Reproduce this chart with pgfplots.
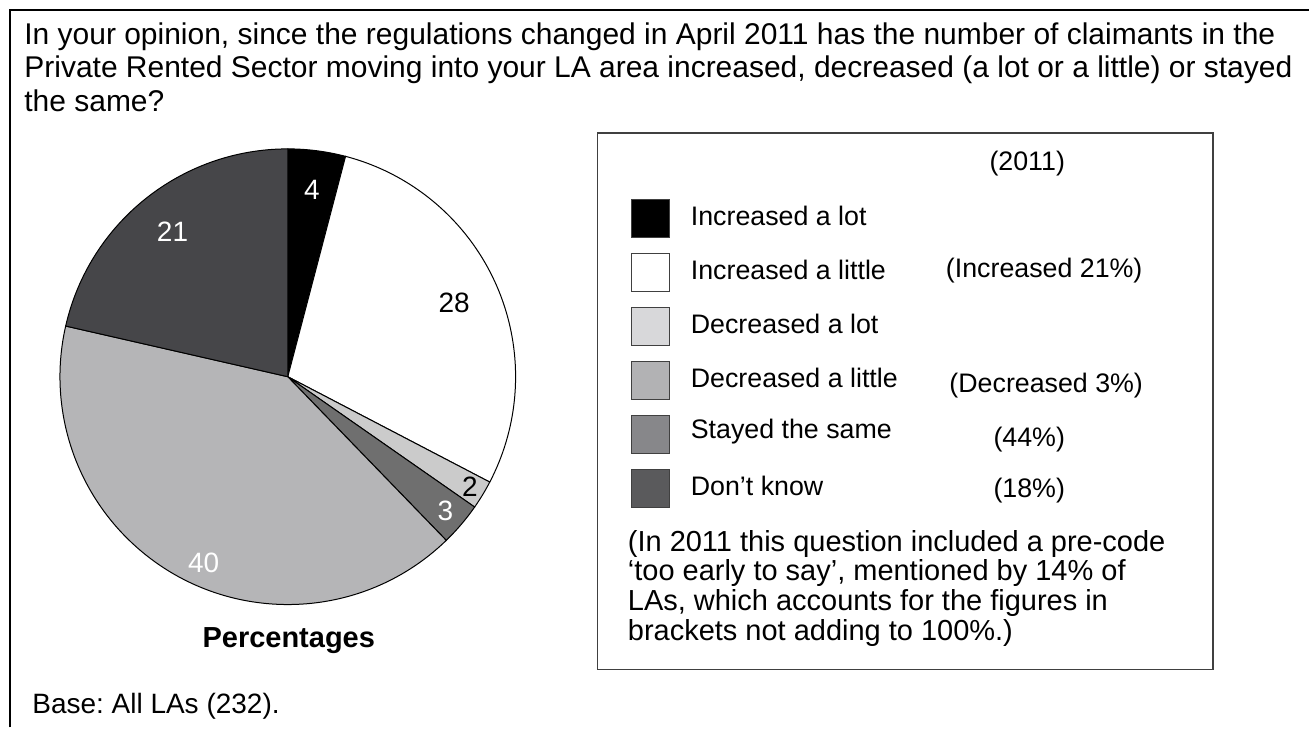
\documentclass[border=0pt]{standalone}
\usepackage{pgfplots}
\pgfplotsset{compat=1.18}
\usepackage{pgfplotstable}
\usepackage{fontspec}
\setmainfont{Liberation Sans}
\frenchspacing

\definecolor{pieA}{HTML}{CBCBCB}
\definecolor{pieB}{HTML}{6F6F6F}
\definecolor{pieC}{HTML}{B5B5B7}
\definecolor{pieD}{HTML}{464649}
\definecolor{legA}{HTML}{D8D8DA}
\definecolor{legB}{HTML}{B2B2B4}
\definecolor{legC}{HTML}{87878A}
\definecolor{legD}{HTML}{5A5A5C}
\definecolor{boxgrey}{HTML}{404040}
\tikzset{legsw/.style={draw=boxgrey, line width=0.5pt},
         legt/.style={anchor=west, inner sep=0pt, font=\fontsize{13.4pt}{16pt}\selectfont},
         pielab/.style={inner sep=0pt, font=\fontsize{14pt}{16pt}\selectfont}}

% slice values (percent), fill, label colour, label radius (px), label angle shift
\pgfplotstableread{
label      value fc    tc    lr  da
IncLot     4     black white 189 0
IncLittle  28    white black 182 0
DecLot     2     pieA  black 213 0
DecLittle  3     pieB  white 207 0
Same       40    pieC  white 204 5
DontKnow   21    pieD  white 185 0
}\piedata

\begin{document}
\begin{tikzpicture}
\begin{axis}[
    scale only axis,
    width=655pt, height=364pt,
    xmin=0, xmax=1310, ymin=0, ymax=728,
    y dir=reverse,
    hide axis,
    clip=false,
    ]
\path (axis cs:0,0) rectangle (axis cs:1310,728);
% outer frame
\draw[line width=1pt] (axis cs:10,728) -- (axis cs:10,10) -- (axis cs:1310,10);

% title
\node[anchor=north west, inner sep=0pt, align=left, font=\fontsize{15pt}{16.75pt}\selectfont] at (axis cs:24,22)
  {In your opinion, since the regulations changed in April 2011 has the number of claimants in the\\
   Private Rented Sector moving into your LA area increased, decreased (a lot or a little) or stayed\\
   the same?};

% pie
\pgfplotstablegetrowsof{\piedata}
\pgfmathtruncatemacro\nrows{\pgfplotsretval-1}
\def\total{0}
\pgfplotsforeachungrouped \i in {0,...,\nrows}{%
  \pgfplotstablegetelem{\i}{value}\of\piedata
  \pgfmathsetmacro\total{\total+\pgfplotsretval}}
\def\cum{0}
\pgfplotsforeachungrouped \i in {0,...,\nrows}{%
  \pgfplotstablegetelem{\i}{value}\of\piedata \let\val\pgfplotsretval
  \pgfplotstablegetelem{\i}{fc}\of\piedata \let\fc\pgfplotsretval
  \pgfplotstablegetelem{\i}{tc}\of\piedata \let\tc\pgfplotsretval
  \pgfplotstablegetelem{\i}{lr}\of\piedata \let\lr\pgfplotsretval
  \pgfplotstablegetelem{\i}{da}\of\piedata \let\da\pgfplotsretval
  \pgfmathsetmacro\sa{90-\cum/\total*360}
  \pgfmathsetmacro\ea{90-(\cum+\val)/\total*360}
  \pgfmathsetmacro\ma{(\sa+\ea)/2+\da}
  \pgfmathsetmacro\lrr{\lr*0.5}
  \edef\temp{%
    \noexpand\filldraw[fill=\fc, draw=black, line width=0.5pt]
      (axis cs:288,377) -- ++(\sa:114pt) arc[start angle=\sa, end angle=\ea, radius=114pt] -- cycle;
    \noexpand\path (axis cs:288,377) ++(\ma:\lrr pt) node[pielab, text=\tc] {\val};}
  \temp
  \pgfmathsetmacro\cum{\cum+\val}}

\node[inner sep=0pt, font=\fontsize{14.5pt}{16pt}\selectfont\bfseries] at (axis cs:289,641) {Percentages};
\node[anchor=west, inner sep=0pt, font=\fontsize{14pt}{16pt}\selectfont] at (axis cs:32,707) {Base: All LAs (232).};

% legend box
\draw[boxgrey, line width=0.75pt] (axis cs:598,133) rectangle (axis cs:1214,670);
\filldraw[legsw, fill=black] (axis cs:632,200) rectangle (axis cs:670,238);
\filldraw[legsw, fill=white] (axis cs:632,254) rectangle (axis cs:670,292);
\filldraw[legsw, fill=legA] (axis cs:632,308) rectangle (axis cs:670,346);
\filldraw[legsw, fill=legB] (axis cs:632,362) rectangle (axis cs:670,400);
\filldraw[legsw, fill=legC] (axis cs:632,416) rectangle (axis cs:670,454);
\filldraw[legsw, fill=legD] (axis cs:632,470) rectangle (axis cs:670,508);
\node[legt] at (axis cs:691,216) {Increased a lot};
\node[legt] at (axis cs:691,270) {Increased a little};
\node[legt] at (axis cs:691,324) {Decreased a lot};
\node[legt] at (axis cs:691,378) {Decreased a little};
\node[legt] at (axis cs:691,432) {Stayed the same};
\node[legt] at (axis cs:691,486) {Don’t know};
\node[legt, anchor=center] at (axis cs:1028,164) {(2011)};
\node[legt, anchor=center] at (axis cs:1045,271) {(Increased 21\%)};
\node[legt, anchor=center] at (axis cs:1047,386) {(Decreased 3\%)};
\node[legt, anchor=center] at (axis cs:1030,440) {(44\%)};
\node[legt, anchor=center] at (axis cs:1030,491) {(18\%)};
\node[anchor=north west, align=left, inner sep=0pt, font=\fontsize{14.5pt}{15pt}\selectfont]
  at (axis cs:628,530) {(In 2011 this question included a pre-code\\‘too early to say’, mentioned by 14\% of\\LAs, which accounts for the figures in\\brackets not adding to 100\%.)};
\end{axis}
\end{tikzpicture}
\end{document}
